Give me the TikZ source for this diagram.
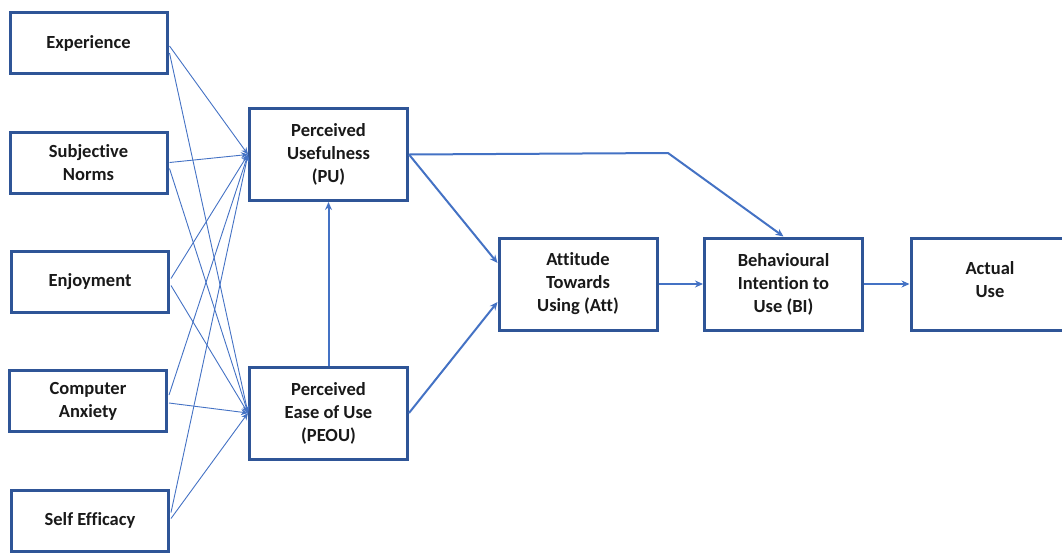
\documentclass[tikz,border=0pt]{standalone}
\usepackage{fontspec}
\setmainfont[Ligatures=NoCommon]{Carlito}
\usetikzlibrary{arrows.meta,calc}
\definecolor{boxblue}{HTML}{2F5597}
\definecolor{linkblue}{HTML}{4472C4}
\begin{document}
\begin{tikzpicture}[x=1pt,y=-1pt,
  box/.style={draw=boxblue,line width=3pt,fill=white,align=center,inner sep=0pt,
    font=\bfseries\fontsize{18.5}{23}\selectfont,text=black!90},
  leftbox/.style={box,minimum width=157pt,minimum height=61pt},
  bigbox/.style={box,minimum width=158pt,minimum height=92pt},
  thin/.style={draw=linkblue,line width=0.9pt,-{Stealth[length=7pt,width=6pt]}},
  thick/.style={draw=linkblue,line width=2pt,-{Stealth[length=8pt,width=7pt]}}]
\useasboundingbox (0,0) rectangle (1062,552);

% determinants
\node[leftbox] (exp) at (88.5,43) {Experience};
\node[leftbox] (sn)  at (88.5,162.5) {Subjective\\Norms};
\node[leftbox] (enj) at (90,281.5) {Enjoyment};
\node[leftbox] (ca)  at (88,401) {Computer\\Anxiety};
\node[leftbox] (se)  at (90,520.5) {Self Efficacy};

% TAM constructs
\node[bigbox] (pu)   at (328.5,154.5) {Perceived\\Usefulness\\(PU)};
\node[bigbox] (peou) at (328.5,413) {Perceived\\Ease of Use\\(PEOU)};
\node[bigbox] (att)  at (578,284) {Attitude\\Towards\\Using (Att)};
\node[bigbox] (bi)   at (783.5,284) {Behavioural\\Intention to\\Use (BI)};
\node[bigbox,text depth=9pt] (use) at (990,284) {Actual\\Use};

% external variables feeding PU and PEOU
\foreach \n/\a/\b in {exp/3/10, sn/0/6, enj/-3/4, ca/-6/2, se/-8/-2}{
  \draw[thin] ($(\n.east)+(1,\a)$) -- (pu.west);
  \draw[thin] ($(\n.east)+(1,\b)$) -- (peou.west);
}

% core model
\draw[thick] (peou.north) -- (pu.south);
\draw[thick] (pu.east) -- ($(att.west)+(0,-21)$);
\draw[thick] (peou.east) -- ($(att.west)+(0,18)$);
\coordinate (bend) at (668,153);
\draw[thick] (pu.east) -- (bend) -- (bi.north);
\draw[thick] (att.east) -- (bi.west);
\draw[thick] (bi.east) -- (use.west);
\end{tikzpicture}
\end{document}
